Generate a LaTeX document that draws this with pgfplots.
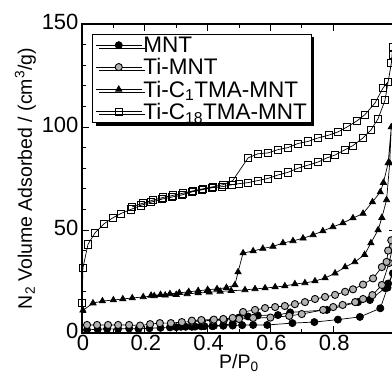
\documentclass[border=0pt]{standalone}
\usepackage{pgfplots}
\pgfplotsset{compat=1.18}
\usepackage{fontspec}
\setmainfont{Liberation Sans}
\usetikzlibrary{shadows}
\begin{document}
\begin{tikzpicture}
\begin{axis}[
  scale only axis, width=314pt, height=309pt,
  xmin=0, xmax=1, ymin=0, ymax=150,
  xtick={0,0.2,0.4,0.6,0.8}, minor x tick num=1,
  ytick={0,50,100,150}, minor y tick num=4,
  xticklabels={0,0.2,0.4,0.6,0.8},
  yticklabels={0,50,100,150},
  tick align=inside, major tick length=7pt, minor tick length=4pt,
  tick style={black, line width=0.9pt},
  axis line style={line width=1.3pt},
  tick label style={font=\fontsize{22}{24}\selectfont},
  label style={font=\fontsize{19.5}{23}\selectfont},
  xticklabel style={yshift=1pt, xshift=1pt},
  yticklabel style={xshift=0pt, yshift=2pt},
  xlabel={P/P\textsubscript{0}},
  ylabel={N\textsubscript{2} Volume Adsorbed / (cm\textsuperscript{3}/g)},
  xlabel style={yshift=4pt},
  ylabel style={yshift=-1pt},
  legend cell align=left,
  legend style={at={(axis description cs:0.032,0.968)}, anchor=north west,
    draw=black, line width=1.2pt,
    drop shadow={shadow xshift=3pt, shadow yshift=-3pt, fill=black, opacity=1},
    fill=white, inner xsep=3pt, inner ysep=1pt, row sep=2pt,
    nodes={inner sep=1.5pt, text depth=0.1em, font=\fontsize{22.5}{24}\selectfont}},
  legend image code/.code={
    \draw[mark repeat=2,mark phase=2] plot coordinates {(0cm,0cm) (0.8cm,0cm) (1.6cm,0cm)};},
  every axis plot/.append style={line width=0.7pt, black, mark size=3.6pt, mark options={line width=0.6pt, solid}},
]
\addplot[mark=*, mark options={fill=black}] coordinates {
(0.016,1.5) (0.05,1.8) (0.08,2) (0.115,2) (0.15,2.2) (0.18,2) (0.215,2.3) (0.25,2.5) (0.28,2.7) (0.315,3) (0.35,3) (0.38,3.2) (0.415,3.3) (0.45,3.5) (0.48,3.6) (0.51,3.8) (0.545,3.9) (0.59,3.9) (0.67,4.8) (0.74,5.3) (0.815,6.5) (0.885,7.8) (0.95,12) (0.973,22) (0.99,29)
(0.975,24) (0.965,21.8) (0.917,16) (0.879,15) (0.78,11.2) (0.663,10) (0.624,8.7) (0.56,8.5) (0.529,8) (0.5,7.5) (0.48,4.5) (0.45,3.8) (0.42,3.5) (0.39,3.3) (0.36,3.1) (0.33,3) (0.3,2.8)
};
\addlegendentry{MNT}
\addplot[mark=*, mark options={fill=gray!60, draw=black, line width=0.9pt}] coordinates {
(0.016,3.9) (0.048,3.9) (0.083,3.9) (0.115,3.9) (0.15,3.9) (0.185,3.6) (0.217,4.3) (0.248,4.8) (0.283,4.8) (0.318,5.3) (0.35,5.5) (0.382,5.8) (0.417,6) (0.452,6.3) (0.5,6.8) (0.545,7.3) (0.6,7.5) (0.66,8.3) (0.7,9.2) (0.768,11.2) (0.8,12.6) (0.83,13.6) (0.87,15) (0.895,16.5) (0.925,18.4) (0.955,23.3) (0.978,34) (0.99,42)
(0.985,45) (0.975,40) (0.97,34.5) (0.955,32) (0.927,26.5) (0.895,23.5) (0.863,21.2) (0.838,20) (0.806,18.5) (0.774,17.5) (0.742,16.5) (0.71,15) (0.678,14) (0.646,13.1) (0.615,12.6) (0.583,12.1) (0.551,11.2) (0.513,10.2) (0.48,7.3) (0.45,6.8) (0.42,6.5) (0.38,6.3) (0.35,6)
};
\addlegendentry{Ti-MNT}
\addplot[mark=triangle*, mark options={fill=black}] coordinates {
(0.003,11) (0.035,14.5) (0.065,15.5) (0.1,16) (0.13,16.5) (0.16,17) (0.195,17.5) (0.23,18) (0.265,18.3) (0.3,18.6) (0.335,19) (0.37,19.4) (0.405,19.8) (0.44,20.2) (0.475,20.5) (0.519,20.9) (0.551,21.4) (0.583,21.8) (0.615,22.3) (0.646,22.8) (0.678,23.8) (0.71,24.3) (0.742,25.2) (0.774,26.7) (0.806,29) (0.838,32) (0.869,34.5) (0.9,38) (0.92,43.7) (0.943,50) (0.955,56) (0.97,64.6) (0.98,82.5) (0.985,100)
(0.975,82.5) (0.96,73) (0.95,68.4) (0.925,63.6) (0.895,58) (0.863,55.8) (0.831,53.4) (0.799,51.5) (0.767,49.5) (0.736,47.6) (0.704,46) (0.672,44.7) (0.64,43.7) (0.608,42) (0.576,41) (0.545,39.8) (0.513,38.8) (0.497,29.6) (0.487,23.3) (0.46,22) (0.43,21.4) (0.4,21) (0.37,20.5) (0.34,20) (0.31,19.5) (0.28,19) (0.25,18.6) (0.22,18.2)
};
\addlegendentry{Ti-C\textsubscript{1}TMA-MNT}
\addplot[mark=square, mark options={fill=white}] coordinates {
(0.0,14.5) (0.003,31.6) (0.019,43) (0.041,48.5) (0.07,53) (0.099,56) (0.124,58) (0.156,60) (0.188,62) (0.22,63.5) (0.255,65) (0.287,66) (0.318,67) (0.35,68.5) (0.382,69.5) (0.414,70.5) (0.446,71) (0.478,72) (0.5,72.5) (0.529,73) (0.56,74) (0.592,75) (0.624,76.7) (0.656,78) (0.688,80) (0.72,81.5) (0.752,83) (0.78,85) (0.806,86.4) (0.838,89) (0.863,91) (0.895,94.7) (0.92,98.5) (0.943,104) (0.965,113) (0.975,122) (0.985,131) (0.99,139)
(0.99,135) (0.975,122) (0.959,119) (0.933,111.6) (0.901,106) (0.876,103) (0.844,100) (0.815,97.6) (0.785,96) (0.752,94.7) (0.72,93) (0.688,92) (0.656,90) (0.624,89) (0.592,87.4) (0.56,87) (0.529,85) (0.48,74) (0.45,72) (0.417,71) (0.385,70) (0.353,69) (0.32,67.8) (0.29,66.8) (0.258,65.8) (0.226,64.5) (0.194,63) (0.16,61.3)
};
\addlegendentry{Ti-C\textsubscript{18}TMA-MNT}
\end{axis}
\pgfresetboundingbox
\useasboundingbox (-82pt,-54pt) rectangle (310pt,333pt);
\end{tikzpicture}
\end{document}
